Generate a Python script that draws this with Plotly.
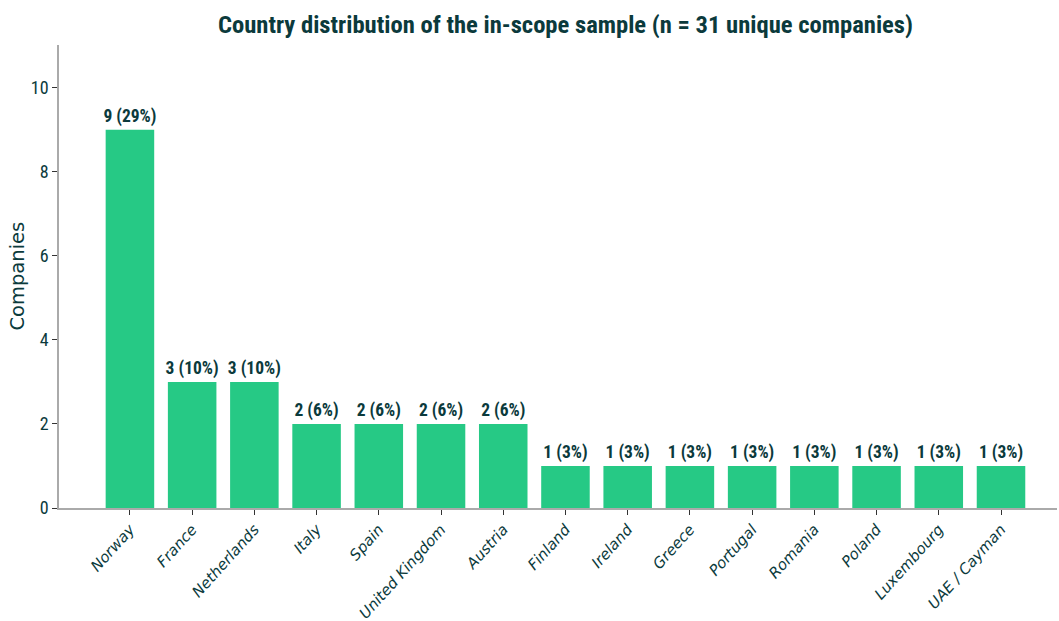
import plotly.graph_objects as go

countries = ["Norway", "France", "Netherlands", "Italy", "Spain", "United Kingdom",
             "Austria", "Finland", "Ireland", "Greece", "Portugal", "Romania",
             "Poland", "Luxembourg", "UAE / Cayman"]
companies = [9, 3, 3, 2, 2, 2, 2, 1, 1, 1, 1, 1, 1, 1, 1]
total = 31

labels = [f"{v} ({round(100 * v / total)}%)" for v in companies]

INK = "#0b3a3c"
BAR = "#26c985"
COND = "Roboto Condensed"

fig = go.Figure(go.Bar(
    x=countries,
    y=companies,
    marker=dict(color=BAR, line=dict(width=0)),
    width=0.78,
    text=labels,
    textposition="outside",
    constraintext="none",
    cliponaxis=False,
    textfont=dict(family=COND, size=17.5, color=INK, weight="bold"),
))

fig.update_layout(
    width=1059, height=621,
    margin=dict(l=59, r=2, t=45, b=113),
    paper_bgcolor="white", plot_bgcolor="white",
    showlegend=False,
    title=dict(
        text="<b>Country distribution of the in-scope sample (n = 31 unique companies)</b>",
        x=0.534, xanchor="center", y=0.96, yanchor="middle",
        font=dict(family=COND, size=24.6, color=INK),
    ),
)

# y-axis title placed as a rotated annotation left of the tick labels
fig.add_annotation(
    text="Companies", textangle=-90,
    xref="paper", yref="paper", x=-0.042, y=0.5,
    xanchor="center", yanchor="middle", showarrow=False,
    font=dict(family="DejaVu Sans, sans-serif", size=19.5, color=INK),
)

fig.update_xaxes(
    range=[-1.14, 14.9],
    automargin=False,
    tickvals=countries,
    ticktext=[f"<i>{c}</i>" for c in countries],
    showline=True, linecolor="#aaaaaa", linewidth=1.5,
    ticks="outside", ticklen=5, tickcolor="#333333",
    tickangle=-48,
    tickfont=dict(family="DejaVu Sans, sans-serif", size=15, color=INK),
    showgrid=False,
)

fig.update_yaxes(
    range=[0, 11.02],
    automargin=False,
    tickvals=[0, 2, 4, 6, 8, 10],
    showline=True, linecolor="#aaaaaa", linewidth=1.5,
    ticks="outside", ticklen=5, tickcolor="#333333",
    tickfont=dict(family=COND, size=18, color=INK),
    showgrid=False, zeroline=False,
)

fig.write_html("out.html")
